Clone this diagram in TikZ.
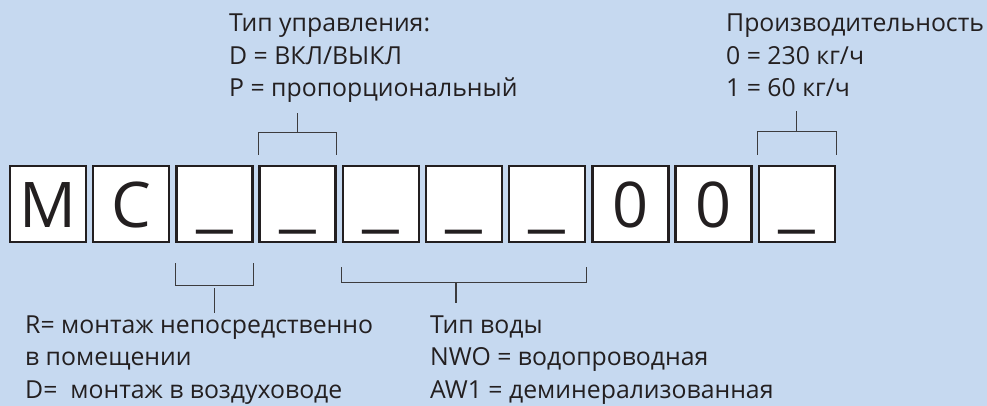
\documentclass[tikz,border=0pt]{standalone}
\usepackage{fontspec}
\usepackage{graphicx}
\setmainfont{Open Sans}
\definecolor{bgblue}{RGB}{198,217,240}
\definecolor{boxline}{RGB}{35,31,32}
\definecolor{brline}{RGB}{60,60,62}
\definecolor{txt}{RGB}{35,31,32}
\newcommand{\blank}{\raisebox{3pt}{\scalebox{1.3}[1]{\_}}}
\tikzset{
  codebox/.style={draw=boxline, line width=2.5pt, fill=white, minimum width=76pt, minimum height=76pt, inner sep=0pt,
     font=\fontsize{63}{63}\selectfont, text=txt, text height=46pt, text depth=0pt},
  bracket/.style={draw=brline, line width=1.1pt},
  labeltext/.style={anchor=base west, inner sep=0pt, align=left, text=txt, font=\fontsize{24.8}{32.5}\selectfont},
}
\begin{document}
\begin{tikzpicture}[x=1pt,y=-1pt]
\fill[bgblue] (0,0) rectangle (987,406);
\useasboundingbox (0,0) rectangle (987,406);
\foreach \i/\t in {1/M,2/C,3/\blank,4/\blank,5/\blank,6/\blank,7/\blank,8/0,9/0,10/\blank}{
  \node[codebox] (b\i) at ({48+83.2*(\i-1)},204) {\t};
}
% top bracket: control type (box 4)
\coordinate (t1l) at ([yshift=10pt]b4.north west);
\coordinate (t1r) at ([yshift=10pt]b4.north east);
\draw[bracket] (t1l) -- ++(0,-22) -| (t1r);
\draw[bracket] ([yshift=32pt]b4.north) -- ++(0,-20) coordinate (t1s);
% top bracket: capacity (box 10)
\coordinate (t2l) at ([yshift=10pt]b10.north west);
\coordinate (t2r) at ([yshift=10pt]b10.north east);
\draw[bracket] (t2l) -- ++(0,-23) -| (t2r);
\draw[bracket] ([yshift=33pt]b10.north) -- ++(0,-21) coordinate (t2s);
% bottom bracket: mounting (box 3)
\coordinate (u1l) at ([yshift=-20pt]b3.south west);
\coordinate (u1r) at ([yshift=-20pt]b3.south east);
\draw[bracket] (u1l) -- ++(0,22) -| (u1r);
\draw[bracket] ([yshift=-45pt]b3.south) -- ++(0,25) coordinate (u1s);
% bottom bracket: water type (boxes 5-7)
\coordinate (u2l) at ([yshift=-24pt]b5.south west);
\coordinate (u2r) at ([yshift=-24pt]b7.south east);
\draw[bracket] (u2l) -- ++(0,15) -| (u2r);
\draw[bracket] ([xshift=-8pt,yshift=-40pt]b6.south) -- ++(0,20) coordinate (u2s);
% texts (base anchor = baseline of last line)
\node[labeltext] (ctrl) at (229,97) {Тип управления:\\D = ВКЛ/ВЫКЛ\\P = пропорциональный};
\node[labeltext] (cap) at (726,97) {Производительность\\0 = 230 кг/ч\\1 = 60 кг/ч};
\node[labeltext] (mount) at (25,398) {R= монтаж непосредственно\\в помещении\\D=\ \ монтаж в воздуховоде};
\node[labeltext] (water) at (430,398) {Тип воды\\NWO = водопроводная\\AW1 = деминерализованная};
\end{tikzpicture}
\end{document}
